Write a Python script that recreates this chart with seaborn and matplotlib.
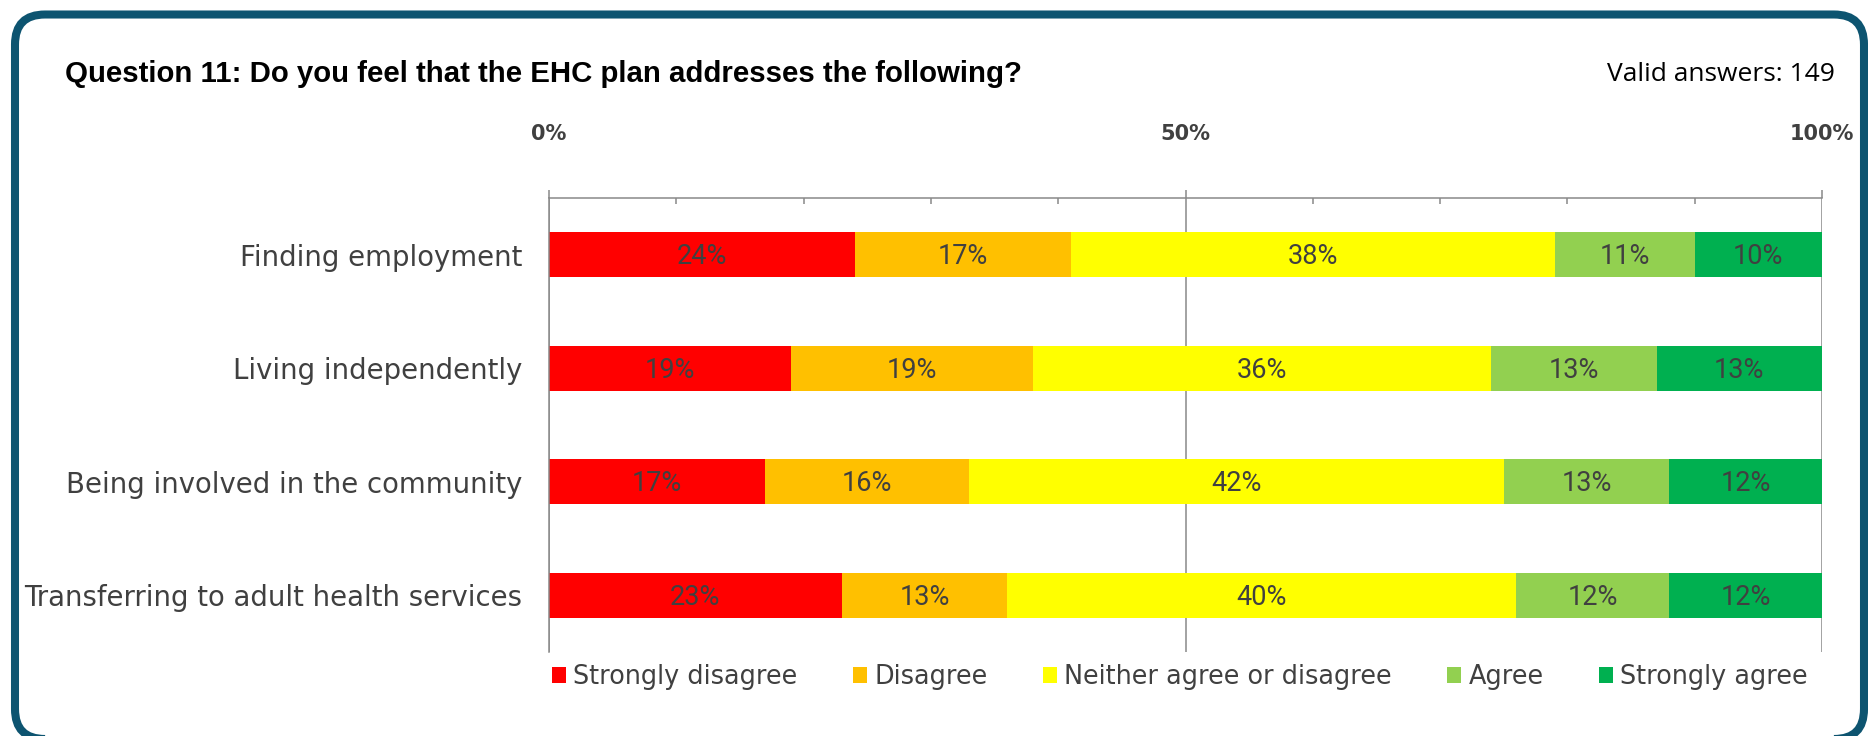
import numpy as np
import pandas as pd
import matplotlib
matplotlib.use("Agg")
import matplotlib.pyplot as plt
from matplotlib.patches import FancyBboxPatch, Patch
import seaborn as sns

# ---- data -------------------------------------------------------------
categories = [
    "Finding employment",
    "Living independently",
    "Being involved in the community",
    "Transferring to adult health services",
]
responses = [
    "Strongly disagree",
    "Disagree",
    "Neither agree or disagree",
    "Agree",
    "Strongly agree",
]
strongly_disagree = [24, 19, 17, 23]
disagree = [17, 19, 16, 13]
neither = [38, 36, 42, 40]
agree = [11, 13, 13, 12]
strongly_agree = [10, 13, 12, 12]

x_ticks = [0, 50, 100]
x_tick_labels = ["0%", "50%", "100%"]
title = "Question 11: Do you feel that the EHC plan addresses the following?"
note = "Valid answers: 149"

colors = ["#FF0000", "#FFC000", "#FFFF00", "#92D050", "#00B050"]
text_grey = "#404040"
axis_grey = "#898989"
frame_blue = "#0D5470"

# ---- figure -----------------------------------------------------------
sns.set_style("white")
plt.rcParams["font.family"] = ["DejaVu Sans"]

W, H, DPI = 1868, 736, 100
fig = plt.figure(figsize=(W / DPI, H / DPI), dpi=DPI)
ax = fig.add_axes([549 / W, 1 - 652 / H, (1822 - 549) / W, (652 - 198) / H])

series = [strongly_disagree, disagree, neither, agree, strongly_agree]
df = pd.DataFrame({r: s for r, s in zip(responses, series)}, index=categories)
cum = df.cumsum(axis=1)
cum_tbl = cum.reset_index().rename(columns={"index": "Item"})

# stacked bars: paint cumulative totals from the outermost segment inwards
for resp, col in reversed(list(zip(responses, colors))):
    sns.barplot(data=cum_tbl, x=resp, y="Item", orient="h", color=col,
                width=0.4, saturation=1, linewidth=0, errorbar=None, ax=ax)

# segment value labels
for i, cat in enumerate(categories):
    for resp in responses:
        v = df.loc[cat, resp]
        mid = cum.loc[cat, resp] - v / 2
        ax.text(mid, i + 0.085, f"{v}%", ha="center", va="baseline",
                family="Roboto", fontsize=19.5, color=text_grey)

ax.set_xlim(0, 100)
ax.set_ylim(3.5, -0.5)
ax.set_xlabel("")
ax.set_ylabel("")

# x axis on top: bold major labels, inner minor ticks every 10%
ax.xaxis.tick_top()
ax.set_xticks(x_ticks)
ax.set_xticklabels(x_tick_labels, fontsize=15, fontweight="bold", color=text_grey)
ax.set_xticks(np.arange(0, 101, 10), minor=True)
ax.tick_params(axis="x", which="major", direction="out", length=6, width=1.1,
               color=axis_grey, pad=33, top=True, bottom=False)
ax.tick_params(axis="x", which="minor", direction="in", length=4, width=1.1,
               color=axis_grey, top=True, bottom=False)

# y axis: category labels, ticks between categories
ax.set_yticks(range(len(categories)))
ax.set_yticklabels(categories, fontsize=19.8, color=text_grey)
ax.set_yticks(np.arange(-0.5, len(categories), 1), minor=True)
ax.tick_params(axis="y", which="major", length=0, pad=19.4)
ax.tick_params(axis="y", which="minor", direction="out", length=6.5, width=1.1,
               color=axis_grey)

ax.grid(axis="x", which="major", color=axis_grey, linewidth=1.1)
ax.grid(axis="y", visible=False)
ax.set_axisbelow(True)
for side in ["right", "bottom"]:
    ax.spines[side].set_visible(False)
for side in ["top", "left"]:
    ax.spines[side].set_color(axis_grey)
    ax.spines[side].set_linewidth(1.1)

# legend
handles = [Patch(facecolor=c, edgecolor="none", label=r) for r, c in zip(responses, colors)]
fig.legend(handles=handles, loc="center", bbox_to_anchor=(0.6316, 1 - 677 / H),
           ncol=5, frameon=False, fontsize=18.4, handlelength=0.55,
           handleheight=0.55, handletextpad=0.3, columnspacing=2.15,
           borderpad=0, labelcolor=text_grey)

# heading texts
fig.text(65 / W, 1 - 82 / H, title, ha="left", va="baseline",
         family="Liberation Sans", fontweight="bold", fontsize=21.2, color="black")
fig.text(1835 / W, 1 - 81 / H, note, ha="right", va="baseline",
         family="Open Sans", fontsize=19, color="black")

# rounded panel border
frame = FancyBboxPatch((0.15, -0.03), 18.49, 7.245,
                       boxstyle="round,pad=0,rounding_size=0.3",
                       transform=fig.dpi_scale_trans, facecolor="none",
                       edgecolor=frame_blue, linewidth=5.8, clip_on=False)
fig.patches.append(frame)

fig.savefig("out.png", dpi=DPI)
